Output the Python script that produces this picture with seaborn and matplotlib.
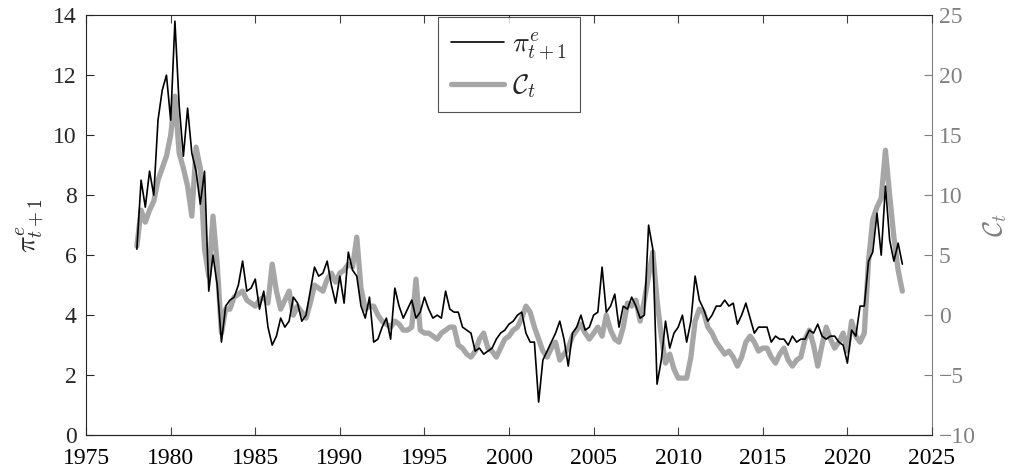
import numpy as np
import pandas as pd
import seaborn as sns
import matplotlib.pyplot as plt
from matplotlib.lines import Line2D

sns.set_style('ticks')
plt.rcParams['font.family'] = ['Liberation Serif', 'DejaVu Serif']
plt.rcParams['mathtext.fontset'] = 'cm'

# quarterly values, 1978Q1 .. 2023Q2
pi_exp = [6.2, 8.5, 7.6, 8.8,  8.0, 10.5, 11.5, 12.0,  10.5, 13.8, 11.0, 9.3,
          10.9, 9.4, 8.8, 7.7,  8.8, 4.8, 6.0, 5.0,  3.1, 4.3, 4.5, 4.6,
          5.0, 5.8, 4.8, 4.9,  5.2, 4.2, 4.8, 3.6,  3.0, 3.3, 3.9, 3.6,
          3.8, 4.6, 4.4, 3.8,  4.0, 4.8, 5.6, 5.3,  5.4, 5.8, 5.0, 4.4,
          5.3, 4.4, 6.1, 5.5,  5.3, 4.3, 3.9, 4.6,  3.1, 3.2, 3.6, 3.9,
          3.2, 4.9, 4.3, 3.9,  4.2, 4.5, 3.9, 4.1,  4.6, 4.2, 3.9, 4.0,
          3.9, 4.8, 4.2, 4.1,  4.1, 3.6, 3.5, 3.4,  2.8, 2.9, 2.7, 2.8,
          2.9, 3.2, 3.4, 3.5,  3.7, 3.8, 4.0, 4.1,  3.4, 3.1, 3.1, 1.1,
          2.5, 2.8, 3.1, 3.4,  3.8, 3.2, 2.3, 3.4,  3.6, 4.0, 3.5, 3.6,
          4.0, 4.1, 5.6, 4.1,  4.3, 4.7, 3.6, 4.3,  4.2, 4.6, 4.3, 3.9,
          4.0, 7.0, 6.2, 1.7,  2.5, 3.8, 2.9, 3.4,  3.6, 4.0, 3.1, 3.8,
          5.3, 4.5, 4.2, 3.8,  4.0, 4.3, 4.3, 4.5,  4.3, 4.4, 3.7, 4.0,
          4.4, 3.9, 3.4, 3.6,  3.6, 3.6, 3.1, 3.3,  3.2, 3.2, 3.0, 3.3,
          3.1, 3.2, 3.2, 3.5,  3.4, 3.7, 3.3, 3.2,  3.3, 3.3, 3.1, 3.0,
          2.4, 3.5, 3.3, 4.3,  4.3, 5.8, 6.1, 7.4,  6.0, 8.3, 6.5, 5.8,
          6.4, 5.7]

c_index = [5.75, 8.75, 7.75, 8.75,  9.5, 11.25, 12.25, 13.25,  15.0, 18.25, 13.5, 12.25,
           10.75, 8.25, 14.0, 12.25,  5.5, 3.25, 8.25, 4.25,  -1.5, 0.5, 0.5, 1.5,
           1.75, 2.0, 1.25, 1.0,  0.75, 1.25, 1.5, 1.0,  4.25, 2.0, 0.5, 1.25,
           2.0, 0.0, 0.75, 0.25,  -0.25, 1.0, 2.5, 2.25,  2.0, 3.0, 3.5, 2.75,
           3.5, 3.75, 4.25, 4.0,  6.5, 2.25, 0.5, 0.75,  0.75, 0.0, -0.5, -0.75,
           -1.0, -0.5, -0.75, -1.25,  -1.25, -1.0, 3.0, -1.25,  -1.5, -1.5, -1.75, -2.0,
           -1.5, -1.25, -1.0, -1.0,  -2.5, -2.75, -3.25, -3.5,  -3.0, -2.0, -1.5, -2.75,
           -3.0, -3.5, -2.75, -2.0,  -1.75, -1.25, -1.0, -0.25,  0.75, 0.25, -1.0, -2.0,
           -3.0, -3.5, -2.75, -2.25,  -3.75, -3.25, -2.75, -1.75,  -1.25, -0.75, -1.5, -2.0,
           -1.5, -1.0, -1.75, 0.0,  -1.25, -2.0, -2.25, -1.0,  1.0, 0.75, 1.25, -0.5,
           1.25, 3.25, 5.25, 1.25,  -1.75, -4.0, -3.25, -4.5,  -5.25, -5.25, -5.25, -3.5,
           -0.5, 0.5, 0.25, -1.0,  -1.5, -2.25, -2.75, -3.25,  -3.0, -3.5, -4.25, -3.5,
           -2.25, -1.75, -2.25, -3.0,  -2.75, -2.75, -3.5, -4.0,  -3.25, -2.75, -3.75, -4.25,
           -3.75, -3.5, -2.0, -1.25,  -2.5, -4.25, -2.5, -1.0,  -2.0, -2.75, -2.25, -1.5,
           -3.0, -0.5, -1.75, -2.25,  -1.5, 4.5, 8.0, 9.0,  9.75, 13.75, 10.0, 6.5,
           3.75, 2.0]

dates = 1978 + np.arange(len(pi_exp)) / 4
df = pd.DataFrame({'date': dates, 'pi': pi_exp, 'C': c_index})

grey = '#a6a6a6'
axis_grey = '#808080'

fig, ax = plt.subplots(figsize=(10.13, 4.75), dpi=100)
fig.subplots_adjust(left=0.085, right=0.92, bottom=0.084, top=0.968)
ax2 = ax.twinx()

sns.lineplot(data=df, x='date', y='C', ax=ax2, color=grey, linewidth=3.8)
sns.lineplot(data=df, x='date', y='pi', ax=ax, color='black', linewidth=1.2)

# black line above the grey one
ax.set_zorder(ax2.get_zorder() + 1)
ax.patch.set_visible(False)

ax.set_xlim(1975, 2025)
ax.set_ylim(0, 14)
ax2.set_ylim(-10, 25)
ax.set_xticks(np.arange(1975, 2026, 5))
ax.set_yticks(np.arange(0, 15, 2))
ax2.set_yticks(np.arange(-10, 26, 5))

ax.set_xlabel('')
ax.set_ylabel(r'$\pi^e_{t+1}$', fontsize=20, labelpad=4)
ax2.set_ylabel(r'$\mathcal{C}_t$', fontsize=20, color=axis_grey, labelpad=4)

ax.tick_params(axis='both', direction='in', labelsize=17, length=6, top=True, width=0.8)
ax.tick_params(axis='x', pad=9)
ax.tick_params(axis='y', right=False, pad=7)
ax2.tick_params(axis='y', direction='in', labelsize=17, length=6, colors=axis_grey,
                width=0.8, pad=5)
ax.tick_params(axis='x', colors='#404040', labelcolor='black')

for side in ['top', 'bottom', 'left']:
    ax.spines[side].set_color('#262626')
    ax.spines[side].set_linewidth(0.8)
ax.spines['right'].set_visible(False)
ax2.spines['right'].set_color(axis_grey)
ax2.spines['left'].set_visible(False)
ax2.spines['top'].set_visible(False)

handles = [Line2D([], [], color='black', linewidth=1.2),
           Line2D([], [], color=grey, linewidth=3.8)]
leg = ax.legend(handles, [r'$\pi^e_{t+1}$', r'$\mathcal{C}_t$'], loc='upper center',
                bbox_to_anchor=(0.5, 0.995), borderaxespad=0, fontsize=20,
                frameon=True, fancybox=False, handlelength=1.9, borderpad=0.45,
                labelspacing=0.35, handletextpad=0.3)
leg.get_frame().set_edgecolor('#262626')
leg.get_frame().set_linewidth(0.8)

fig.savefig('out.png', dpi=100)
